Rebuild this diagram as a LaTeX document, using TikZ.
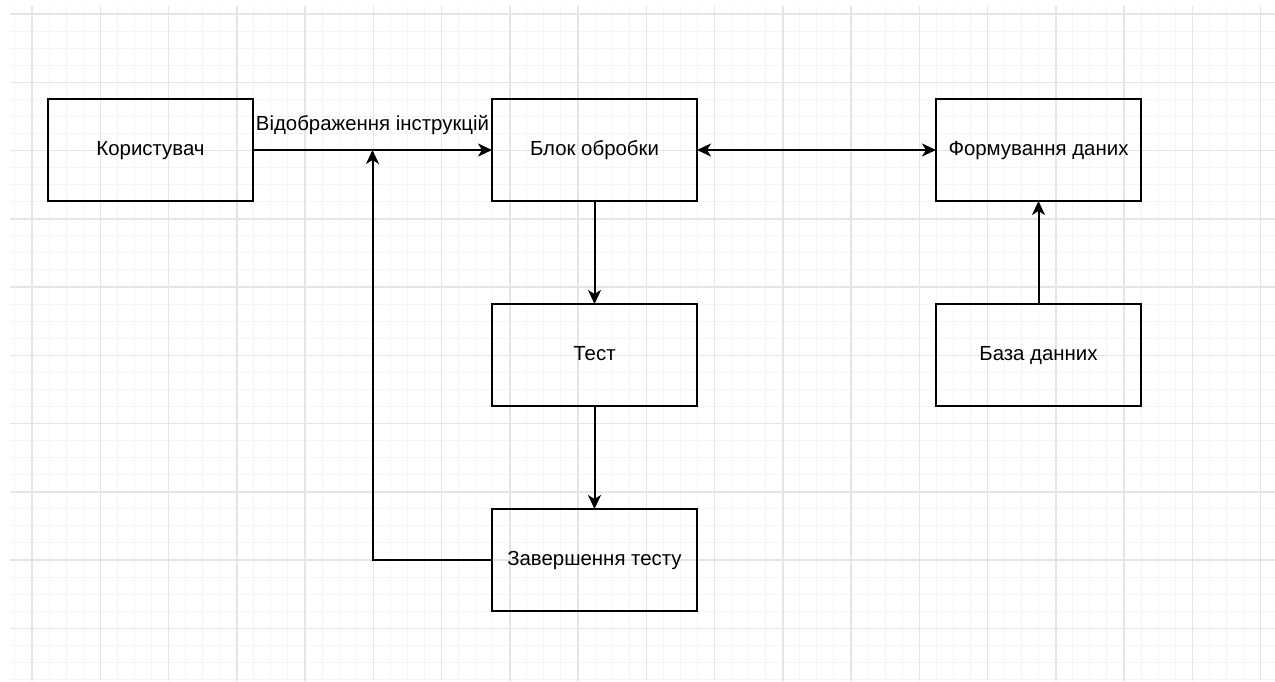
\documentclass[tikz,border=0pt]{standalone}
\usepackage{fontspec}
\setmainfont{Liberation Sans}
\usepackage{tikz}
\usetikzlibrary{arrows.meta, positioning, calc}

\newcommand\boxfont{\fontsize{20.4}{24}\selectfont}

\begin{document}
\begin{tikzpicture}[
  x=1pt, y=-1pt,
  >={Stealth[length=14pt, width=13pt, inset=4pt]}, line width=2pt,
  box/.style   = {draw, rectangle, minimum width=205pt, minimum height=102pt, outer sep=0pt,
                  text height=10pt, text depth=0pt, font=\boxfont},
  minor/.style = {draw=black!4, line width=1pt},
  major/.style = {draw=black!10, line width=1.5pt},
]
  \useasboundingbox (0,0) rectangle (1275,681);

  % background grid
  \begin{scope}
    \clip (10,6) rectangle (1275,681);
    \foreach \i in {-1,...,74} \draw[minor] ({32+17.0625*\i},6) -- ({32+17.0625*\i},681);
    \foreach \j in {-1,...,40} \draw[minor] (10,{14+17.0625*\j}) -- (1275,{14+17.0625*\j});
    \foreach \i in {0,...,18} \draw[major] ({32+68.25*\i},6) -- ({32+68.25*\i},681);
    \foreach \j in {0,...,9}  \draw[major] (10,{14+68.25*\j}) -- (1275,{14+68.25*\j});
  \end{scope}

  \node[box]                       (user)   at (150.5,150) {Користувач};
  \node[box, right=239pt of user]  (proc)   {Блок обробки};
  \node[box, right=239pt of proc]  (form)   {Формування даних};
  \node[box, below=103pt of proc]  (test)   {Тест};
  \node[box, below=103pt of test]  (finish) {Завершення тесту};
  \node[box, below=103pt of form]  (db)     {База данних};

  \coordinate (join) at ($(user.east)!0.5!(proc.west)$);

  \draw[->]  (user) -- node[above, yshift=11pt, font=\boxfont]{Відображення інструкцій} (proc);
  \draw[<->] (proc) -- (form);
  \draw[->]  (proc) -- (test);
  \draw[->]  (test) -- (finish);
  \draw[->]  (db)   -- (form);
  \draw[->]  (finish.west) -| (join);
\end{tikzpicture}
\end{document}
